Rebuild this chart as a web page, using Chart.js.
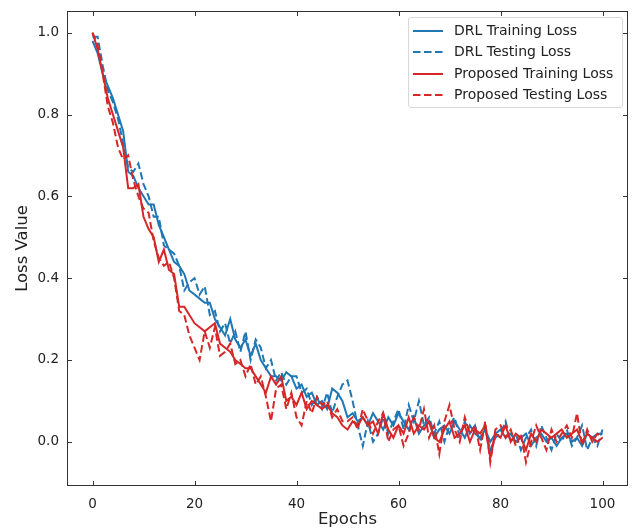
<!DOCTYPE html>
<html>
<head>
<meta charset="utf-8">
<script src="https://cdn.jsdelivr.net/npm/chart.js@4.4.1/dist/chart.umd.min.js"></script>
<style>
  body { margin: 0; background: #fff; }
  #wrap { position: relative; width: 633px; height: 531px; }
  #legend {
    position: absolute; left: 408px; top: 17px; width: 213px; height: 89px;
    border: 1px solid #d8d8d8; border-radius: 3px; background: rgba(255,255,255,0.8);
    font-family: 'DejaVu Sans', sans-serif; font-size: 14px; color: #222;
  }
  .row { position: absolute; left: 0; height: 20px; }
  .row svg { position: absolute; left: 4px; top: 5px; }
  .row span { position: absolute; left: 45px; top: 1px; white-space: nowrap; }
</style>
</head>
<body>
<div id="wrap">
  <canvas id="lossChart"></canvas>
  <div id="legend"></div>
</div>
<script>
// tick labels
var xTicks = [0, 20, 40, 60, 80, 100];
var yTicks = [0.0, 0.2, 0.4, 0.6, 0.8, 1.0];

var seriesNames = ['DRL Training Loss', 'DRL Testing Loss', 'Proposed Training Loss', 'Proposed Testing Loss'];

// loss per epoch, 0..100
var drlTrain = [0.98,0.95,0.90,0.87,0.84,0.80,0.76,0.66,0.65,0.62,0.60,0.58,0.58,0.53,0.50,0.47,0.44,0.43,0.41,0.37,
  0.36,0.35,0.34,0.34,0.30,0.28,0.26,0.30,0.25,0.23,0.25,0.21,0.24,0.20,0.18,0.16,0.16,0.15,0.17,0.16,
  0.13,0.14,0.11,0.12,0.09,0.10,0.08,0.13,0.12,0.10,0.06,0.07,0.05,0.06,0.04,0.07,0.05,0.03,0.06,0.04,
  0.07,0.05,0.03,0.06,0.02,0.04,0.05,0.01,0.03,0.04,0.02,0.05,0.03,0.01,0.04,0.02,0.01,0.03,0.00,0.02,
  0.03,0.01,0.02,0.00,0.01,0.02,-0.01,0.01,0.02,0.00,0.01,-0.01,0.01,0.02,0.00,0.01,-0.01,0.02,0.01,0.02,0.02];
var drlTest = [0.99,0.99,0.92,0.86,0.83,0.79,0.73,0.67,0.66,0.68,0.63,0.60,0.55,0.55,0.48,0.47,0.46,0.43,0.37,0.39,
  0.40,0.36,0.38,0.31,0.32,0.27,0.29,0.24,0.27,0.22,0.27,0.20,0.25,0.23,0.18,0.20,0.15,0.17,0.14,0.16,
  0.16,0.12,0.13,0.09,0.11,0.08,0.12,0.07,0.11,0.14,0.15,0.10,0.04,-0.01,0.05,0.00,0.02,0.06,0.02,0.05,
  0.08,0.03,0.09,0.05,0.10,0.04,0.06,0.02,0.05,0.00,0.04,0.06,0.01,0.05,0.02,0.04,0.00,0.03,-0.02,0.01,
  0.02,0.05,0.00,0.02,-0.02,0.01,0.03,-0.01,0.04,0.01,-0.02,0.02,0.00,0.03,-0.01,0.01,0.04,-0.02,0.01,-0.01,0.03];
var propTrain = [1.00,0.96,0.90,0.84,0.80,0.76,0.72,0.62,0.62,0.63,0.55,0.52,0.50,0.44,0.47,0.42,0.41,0.33,0.33,0.31,
  0.29,0.28,0.27,0.28,0.29,0.24,0.23,0.22,0.20,0.19,0.18,0.18,0.16,0.14,0.12,0.16,0.14,0.16,0.10,0.11,
  0.09,0.12,0.08,0.10,0.09,0.08,0.09,0.07,0.06,0.04,0.03,0.05,0.04,0.06,0.04,0.05,0.02,0.07,0.03,0.01,
  0.04,0.02,0.06,0.02,0.04,0.03,0.05,0.01,0.00,0.03,0.05,0.01,0.02,0.04,0.00,0.03,0.02,0.04,-0.04,0.02,
  0.01,0.04,0.00,0.02,0.01,-0.02,0.02,0.00,0.03,0.02,0.01,0.02,0.03,0.01,0.02,0.03,0.00,0.02,0.01,0.00,0.01];
var propTest = [1.00,0.97,0.90,0.82,0.78,0.72,0.69,0.70,0.64,0.60,0.57,0.56,0.49,0.45,0.43,0.44,0.40,0.32,0.31,0.26,
  0.23,0.20,0.27,0.23,0.28,0.21,0.22,0.24,0.19,0.20,0.16,0.19,0.14,0.16,0.11,0.05,0.13,0.14,0.08,0.12,
  0.06,0.04,0.10,0.07,0.11,0.09,0.10,0.06,0.08,0.05,0.05,0.06,0.03,0.08,0.05,0.02,0.05,0.07,0.00,0.03,
  0.04,-0.01,0.02,0.06,0.03,0.08,0.01,0.04,-0.03,0.05,0.09,0.03,0.00,0.06,0.02,0.04,-0.02,0.05,-0.05,0.03,
  0.04,0.01,0.03,-0.01,0.02,-0.05,0.00,0.04,0.01,-0.02,0.03,0.00,0.02,0.04,0.01,0.07,-0.01,0.03,0.00,0.02,0.01];

var blue = '#1f77b4';
var red = '#d62728';
var dash = [7.5, 3.5];

function toPoints(arr) {
  return arr.map(function(v, i) { return { x: i, y: v }; });
}

var styles = [
  { color: blue, dashed: false, values: drlTrain },
  { color: blue, dashed: true, values: drlTest },
  { color: red, dashed: false, values: propTrain },
  { color: red, dashed: true, values: propTest }
];

// matplotlib style frame with inward ticks on all four sides
var framePlugin = {
  id: 'frame',
  afterDatasetsDraw: function(chart) {
    var ctx = chart.ctx, a = chart.chartArea;
    var xs = chart.scales.x, ys = chart.scales.y, len = 5;
    ctx.save();
    ctx.strokeStyle = '#333';
    ctx.lineWidth = 1;
    ctx.strokeRect(a.left + 0.5, a.top + 0.5, a.right - a.left - 1, a.bottom - a.top - 1);
    ctx.beginPath();
    xTicks.forEach(function(t) {
      var px = Math.round(xs.getPixelForValue(t)) + 0.5;
      ctx.moveTo(px, a.bottom); ctx.lineTo(px, a.bottom - len);
      ctx.moveTo(px, a.top); ctx.lineTo(px, a.top + len);
    });
    yTicks.forEach(function(t) {
      var py = Math.round(ys.getPixelForValue(t)) + 0.5;
      ctx.moveTo(a.left, py); ctx.lineTo(a.left + len, py);
      ctx.moveTo(a.right, py); ctx.lineTo(a.right - len, py);
    });
    ctx.stroke();
    ctx.restore();
  }
};

Chart.defaults.font.family = "'DejaVu Sans', sans-serif";
Chart.defaults.color = '#222';

var ctx = document.getElementById('lossChart').getContext('2d');
var lossChart = new Chart(ctx, {
  type: 'line',
  data: {
    datasets: styles.map(function(s, i) {
      return {
        label: seriesNames[i],
        data: toPoints(s.values),
        borderColor: s.color,
        backgroundColor: s.color,
        borderWidth: 2,
        borderDash: s.dashed ? dash : [],
        pointRadius: 0,
        tension: 0,
        fill: false,
        order: 4 - i
      };
    })
  },
  options: {
    responsive: true,
    maintainAspectRatio: false,
    animation: false,
    layout: { padding: { top: 11, right: 5, left: 0, bottom: 0 } },
    plugins: { legend: { display: false }, tooltip: { enabled: false } },
    scales: {
      x: {
        type: 'linear',
        min: -5,
        max: 105,
        grid: { display: false, drawTicks: false },
        border: { display: false },
        afterBuildTicks: function(s) { s.ticks = xTicks.map(function(v) { return { value: v }; }); },
        afterFit: function(s) { s.height = 45; s.paddingLeft = 0; s.paddingRight = 0; },
        ticks: { font: { size: 13.5 }, padding: 10, maxRotation: 0, callback: function(v) { return String(v); } },
        title: { display: true, text: 'Epochs', font: { size: 16.5 }, padding: { bottom: 1, top: 0 } }
      },
      y: {
        type: 'linear',
        min: -0.108,
        max: 1.053,
        grid: { display: false, drawTicks: false },
        border: { display: false },
        afterBuildTicks: function(s) { s.ticks = yTicks.map(function(v) { return { value: v }; }); },
        afterFit: function(s) { s.width = 67; s.paddingTop = 0; s.paddingBottom = 0; },
        ticks: { font: { size: 13.5 }, padding: 8, callback: function(v) { return v.toFixed(1); } },
        title: { display: true, text: 'Loss Value', font: { size: 16.5 }, padding: { top: 13, bottom: 0 } }
      }
    }
  },
  plugins: [framePlugin]
});

// legend inside the plot, upper right
var legend = document.getElementById('legend');
styles.forEach(function(s, i) {
  var row = document.createElement('div');
  row.className = 'row';
  row.style.top = (3 + i * 21.3) + 'px';
  row.style.width = '210px';
  row.innerHTML = '<svg width="30" height="10"><line x1="0" y1="5" x2="30" y2="5" stroke="' + s.color +
    '" stroke-width="2" ' + (s.dashed ? 'stroke-dasharray="' + dash.join(',') + '"' : '') + '/></svg>' +
    '<span>' + seriesNames[i] + '</span>';
  legend.appendChild(row);
});
</script>
</body>
</html>
